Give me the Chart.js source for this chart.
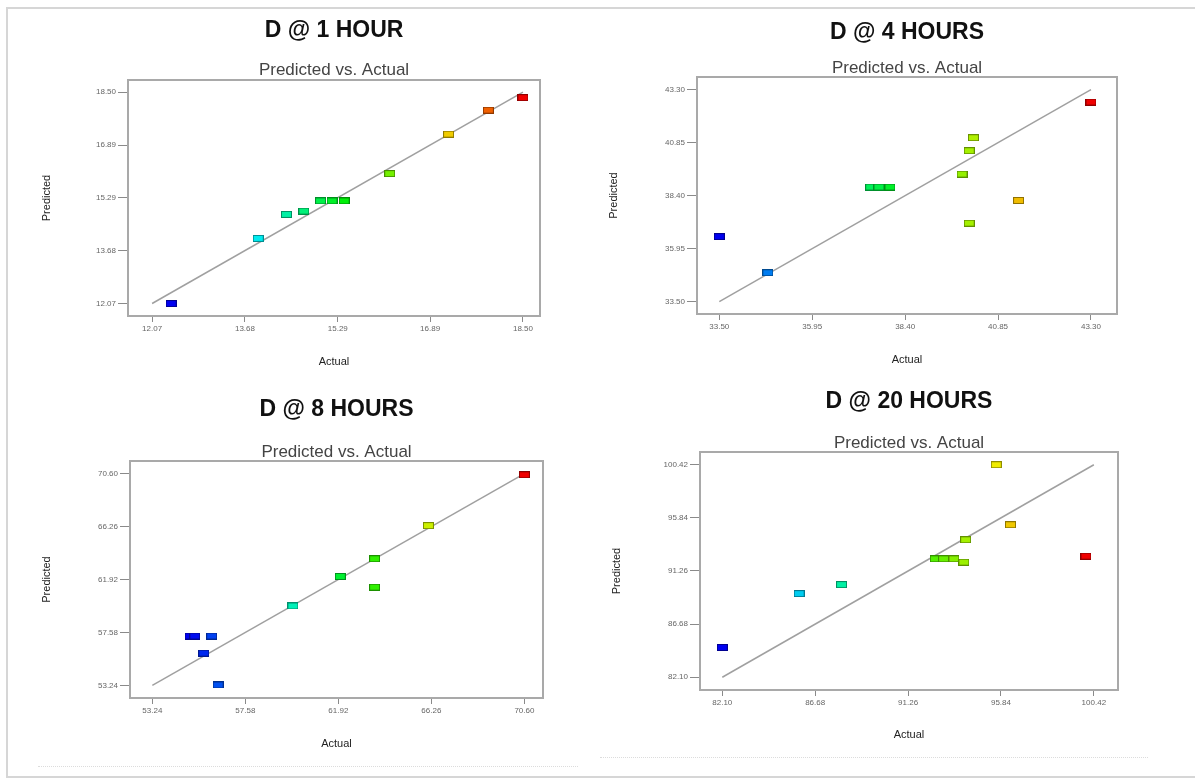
<!DOCTYPE html>
<html>
<head>
<meta charset="utf-8">
<title>Predicted vs. Actual</title>
<script src="https://cdn.jsdelivr.net/npm/chart.js@4.4.1/dist/chart.umd.min.js"></script>
<style>
    body { margin: 0; background: #fff; }
    #page { position: relative; width: 1195px; height: 780px; overflow: hidden; background: #fff; }
    .frame { position: absolute; left: 6px; top: 7px; width: 1200px; height: 767px; border: 2px solid #d6d6d6; border-right: none; }
    .rule { position: absolute; height: 0; border-top: 1px dotted #dcdcdc; }
    canvas { position: absolute; }
</style>
</head>
<body>
<div id="page">
    <div class="frame"></div>
    <div class="rule" style="left:38px; top:766px; width:540px;"></div>
    <div class="rule" style="left:600px; top:757px; width:548px;"></div>
    <canvas id="chart1h" width="600" height="390" style="left:0; top:0;"></canvas>
    <canvas id="chart4h" width="598" height="390" style="left:597px; top:0;"></canvas>
    <canvas id="chart8h" width="600" height="395" style="left:0; top:385px;"></canvas>
    <canvas id="chart20h" width="598" height="395" style="left:597px; top:385px;"></canvas>
</div>
<script>
// Panel titles
const panelTitles = ['D @ 1 HOUR', 'D @ 4 HOURS', 'D @ 8 HOURS', 'D @ 20 HOURS'];
const subTitle = 'Predicted vs. Actual';
const xLabel = 'Actual';
const yLabel = 'Predicted';

// Tick values (same on both axes of a panel)
const ticks1h = [12.07, 13.68, 15.29, 16.89, 18.50];
const ticks4h = [33.50, 35.95, 38.40, 40.85, 43.30];
const ticks8h = [53.24, 57.58, 61.92, 66.26, 70.60];
const ticks20h = [82.10, 86.68, 91.26, 95.84, 100.42];

// D @ 1 hour
const actual1h = [12.40, 13.91, 14.40, 14.70, 14.99, 15.19, 15.40, 16.19, 17.21, 17.90, 18.50];
const predicted1h = [12.07, 14.05, 14.78, 14.88, 15.19, 15.19, 15.19, 16.02, 17.22, 17.95, 18.33];

// D @ 4 hours
const actual4h = [33.50, 34.78, 37.49, 37.71, 38.00, 39.90, 40.09, 40.20, 40.09, 41.39, 43.30];
const predicted4h = [36.51, 34.84, 38.80, 38.80, 38.80, 39.40, 40.48, 41.08, 37.13, 38.18, 42.73];

// D @ 8 hours
const actual8h = [55.00, 55.22, 56.01, 55.64, 56.31, 59.80, 62.01, 63.61, 63.61, 66.12, 70.60];
const predicted8h = [57.28, 57.28, 57.28, 55.88, 53.27, 59.75, 62.17, 63.62, 61.29, 66.34, 70.51];

// D @ 20 hours
const actual20h = [82.10, 85.89, 87.98, 92.60, 93.01, 93.52, 94.01, 94.10, 95.61, 96.31, 100.03];
const predicted20h = [84.67, 89.31, 90.09, 92.31, 92.31, 92.31, 92.02, 93.95, 100.42, 95.25, 92.54];

const FONT = "'Liberation Sans', Arial, sans-serif";

// Grey box around the plot area
const framePlugin = {
    id: 'plotFrame',
    beforeDatasetsDraw(chart) {
        const { ctx, chartArea: a } = chart;
        ctx.save();
        ctx.strokeStyle = '#a9a9a9';
        ctx.lineWidth = 2;
        ctx.strokeRect(a.left, a.top, a.right - a.left, a.bottom - a.top);
        ctx.restore();
    }
};

// Blue -> red colour scale on the actual value (range of the data)
function rainbow(value, lo, hi) {
    const t = Math.min(1, Math.max(0, (value - lo) / (hi - lo)));
    return 'hsl(' + Math.round(240 * (1 - t)) + ', 100%, 47%)';
}

// Small flat rectangle used as point marker
function markerImage(color) {
    const c = document.createElement('canvas');
    c.width = 11;
    c.height = 7;
    const g = c.getContext('2d');
    g.fillStyle = color;
    g.fillRect(0, 0, 11, 7);
    g.strokeStyle = 'rgba(0, 0, 0, 0.4)';
    g.lineWidth = 1;
    g.strokeRect(0.5, 0.5, 10, 6);
    return c;
}

function makePanel(canvasId, title, ticks, actual, predicted, lay) {
    const lo = ticks[0];
    const hi = ticks[ticks.length - 1];
    const span = hi - lo;
    const aMin = Math.min(...actual);
    const aMax = Math.max(...actual);
    const points = actual.map((a, i) => ({ x: a, y: predicted[i] }));
    const markers = actual.map(a => markerImage(rainbow(a, aMin, aMax)));

    const tickFont = { family: FONT, size: 8 };
    const setTicks = scale => { scale.ticks = ticks.map(v => ({ value: v })); };

    new Chart(document.getElementById(canvasId), {
        type: 'scatter',
        data: {
            datasets: [{
                data: points,
                pointStyle: markers,
                pointRadius: 5,
                clip: false,
                order: 1
            }, {
                data: [{ x: lo, y: lo }, { x: hi, y: hi }],
                showLine: true,
                borderColor: '#a0a0a0',
                borderWidth: 1.5,
                pointRadius: 0,
                order: 2
            }]
        },
        options: {
            responsive: false,
            animation: false,
            events: [],
            layout: { padding: { left: 0, right: lay.padRight, top: 0, bottom: 0 } },
            plugins: {
                legend: { display: false },
                tooltip: { enabled: false },
                title: {
                    display: true,
                    text: title,
                    fullSize: false,
                    color: '#111',
                    font: { family: FONT, size: 23, weight: 'bold', lineHeight: 1 },
                    padding: { top: lay.titleTop, bottom: lay.titleBottom }
                },
                subtitle: {
                    display: true,
                    text: subTitle,
                    fullSize: false,
                    color: '#444',
                    font: { family: FONT, size: 17, lineHeight: 1 },
                    padding: { top: lay.subTop, bottom: lay.subBottom }
                }
            },
            scales: {
                x: {
                    type: 'linear',
                    min: lo - lay.xPad[0] * span,
                    max: hi + lay.xPad[1] * span,
                    afterBuildTicks: setTicks,
                    afterFit: scale => { scale.height = lay.xAxisHeight; },
                    border: { display: false },
                    grid: { drawOnChartArea: false, drawTicks: true, tickLength: 6, color: '#8a8a8a' },
                    ticks: {
                        color: '#666',
                        font: tickFont,
                        padding: 2,
                        maxRotation: 0,
                        callback: v => v.toFixed(2)
                    },
                    title: {
                        display: true,
                        text: xLabel,
                        color: '#222',
                        font: { family: FONT, size: 11, lineHeight: 1.2 },
                        padding: { top: 0, bottom: lay.xTitlePad }
                    }
                },
                y: {
                    type: 'linear',
                    min: lo - lay.yPad[0] * span,
                    max: hi + lay.yPad[1] * span,
                    afterBuildTicks: setTicks,
                    afterFit: scale => { scale.width = lay.yAxisWidth; },
                    border: { display: false },
                    grid: { drawOnChartArea: false, drawTicks: true, tickLength: 10, color: '#8a8a8a' },
                    ticks: {
                        color: '#666',
                        font: tickFont,
                        padding: 2,
                        callback: v => v.toFixed(2)
                    },
                    title: {
                        display: true,
                        text: yLabel,
                        color: '#222',
                        font: { family: FONT, size: 11, lineHeight: 1.2 },
                        padding: { top: lay.yTitlePad, bottom: 0 }
                    }
                }
            }
        },
        plugins: [framePlugin]
    });
}

makePanel('chart1h', panelTitles[0], ticks1h, actual1h, predicted1h, {
    padRight: 60, yAxisWidth: 128, xAxisHeight: 74,
    titleTop: 19.5, titleBottom: 12, subTop: 7, subBottom: 1.5,
    xTitlePad: 21.4, yTitlePad: 40.4,
    xPad: [0.065, 0.046], yPad: [0.059, 0.057]
});

makePanel('chart4h', panelTitles[1], ticks4h, actual4h, predicted4h, {
    padRight: 78, yAxisWidth: 100, xAxisHeight: 76,
    titleTop: 21.5, titleBottom: 9, subTop: 6, subBottom: 0.5,
    xTitlePad: 23.4, yTitlePad: 10.4,
    xPad: [0.06, 0.07], yPad: [0.058, 0.06]
});

makePanel('chart8h', panelTitles[2], ticks8h, actual8h, predicted8h, {
    padRight: 57, yAxisWidth: 130, xAxisHeight: 82,
    titleTop: 13.5, titleBottom: 14, subTop: 8, subBottom: 0.5,
    xTitlePad: 29.4, yTitlePad: 40.4,
    xPad: [0.06, 0.05], yPad: [0.06, 0.06]
});

makePanel('chart20h', panelTitles[3], ticks20h, actual20h, predicted20h, {
    padRight: 77, yAxisWidth: 103, xAxisHeight: 90,
    titleTop: 5.5, titleBottom: 14, subTop: 7, subBottom: 0.5,
    xTitlePad: 38.4, yTitlePad: 13.4,
    xPad: [0.06, 0.065], yPad: [0.06, 0.06]
});
</script>
</body>
</html>
